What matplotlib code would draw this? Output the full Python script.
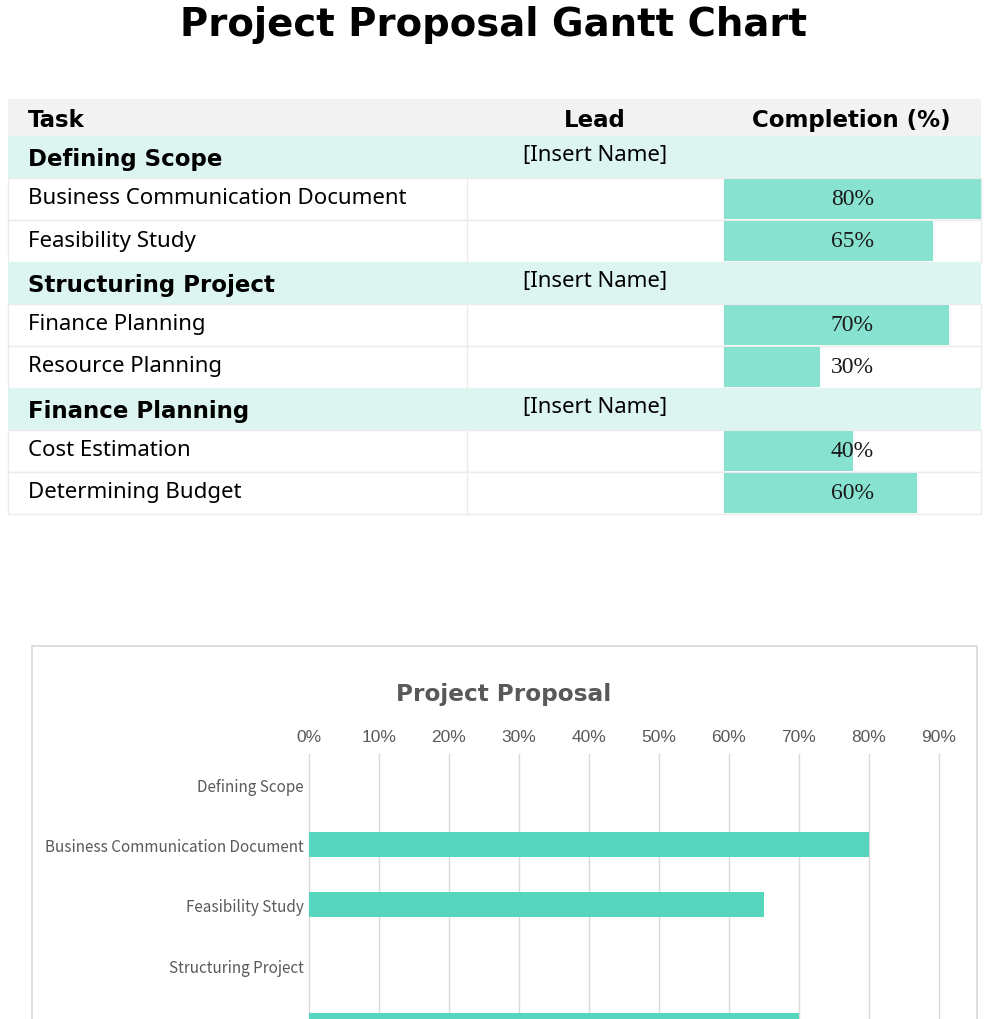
import matplotlib
matplotlib.use("Agg")
import matplotlib.pyplot as plt
import matplotlib.transforms as mtransforms
from matplotlib.patches import Rectangle
from matplotlib.ticker import FuncFormatter

# ---------------- data ----------------
title = "Project Proposal Gantt Chart"
headers = ["Task", "Lead", "Completion (%)"]
tasks = ["Defining Scope", "Business Communication Document", "Feasibility Study",
         "Structuring Project", "Finance Planning", "Resource Planning",
         "Finance Planning", "Cost Estimation", "Determining Budget"]
is_section = [True, False, False, True, False, False, True, False, False]
leads = ["[Insert Name]", "", "", "[Insert Name]", "", "", "[Insert Name]", "", ""]
completion = [None, 80, 65, None, 70, 30, None, 40, 60]
chart_title = "Project Proposal"
x_ticks = [0, 10, 20, 30, 40, 50, 60, 70, 80, 90]

# ---------------- style ----------------
W, H = 990, 1020
HEAD_BG = "#f2f2f2"
SEC_BG = "#dcf5f0"
TBAR = "#88e2d0"
CBAR = "#56d6bc"
GRID = "#d9d9d9"
LINE = "#ebebeb"
GRAY = "#595959"
SANS = ["Noto Sans", "DejaVu Sans"]
SANS_KR = ["Noto Sans CJK KR", "DejaVu Sans"]
BOLD = ["DejaVu Sans"]

fig = plt.figure(figsize=(W / 100, H / 100), dpi=100)
fig.patch.set_facecolor("white")

# layout axes in pixel units
ax = fig.add_axes([0, 0, 1, 1])
ax.set_xlim(0, W)
ax.set_ylim(H, 0)
ax.axis("off")

ax.text(494, 25, title, ha="center", va="center", fontsize=27.8,
        fontweight="heavy", family=BOLD, color="black")

# table geometry
tx0, tx1 = 8, 981
cx1, cx2 = 467, 724
head_top, head_h = 100, 37
row_top, row_h = 137, 42
n = len(tasks)
HFS = 16.5

ax.add_patch(Rectangle((tx0, head_top), tx1 - tx0, head_h, facecolor=HEAD_BG, edgecolor="none"))
ax.text(28, head_top + head_h / 2 + 2, headers[0], ha="left", va="center", fontsize=HFS,
        fontweight="heavy", family=BOLD)
ax.text(595, head_top + head_h / 2 + 2, headers[1], ha="center", va="center", fontsize=HFS,
        fontweight="heavy", family=BOLD)
ax.text(851, head_top + head_h / 2 + 2, headers[2], ha="center", va="center", fontsize=HFS,
        fontweight="heavy", family=BOLD)

for i, (t, sec, ld) in enumerate(zip(tasks, is_section, leads)):
    y = row_top + i * row_h
    if sec:
        ax.add_patch(Rectangle((tx0, y), tx1 - tx0, row_h, facecolor=SEC_BG, edgecolor="none"))
        ax.text(28, y + row_h / 2 + 1.5, t, ha="left", va="center", fontsize=HFS,
                fontweight="heavy", family=BOLD)
    else:
        ax.add_patch(Rectangle((tx0, y), tx1 - tx0, row_h, facecolor="white",
                               edgecolor=LINE, linewidth=1))
        for xx in (cx1, cx2):
            ax.plot([xx, xx], [y, y + row_h], color=LINE, lw=1)
        ax.text(28, y + row_h / 2 - 1, t, ha="left", va="center", fontsize=16,
                family=SANS)
    if ld:
        ax.text(595, y + row_h / 2 - 2, ld, ha="center", va="center", fontsize=16,
                family=SANS)

# completion data bars (Excel-style, scaled to max value)
bx = fig.add_axes([cx2 / W, 1 - (row_top + n * row_h) / H, (tx1 - cx2) / W, n * row_h / H])
bx.set_xlim(0, max(v for v in completion if v is not None))
bx.set_ylim(n - 0.5, -0.5)
bx.axis("off")
bx.patch.set_alpha(0)
idx = [i for i, v in enumerate(completion) if v is not None]
vals = [completion[i] for i in idx]
bx.barh(idx, vals, height=0.97, color=TBAR, edgecolor="none")
blend = mtransforms.blended_transform_factory(bx.transAxes, bx.transData)
for i, v in zip(idx, vals):
    bx.text(0.5, i - 0.02, f"{v}%", transform=blend, ha="center", va="center",
            fontsize=17, family=["Liberation Serif"], color="#1a1a1a")

# ---------------- chart ----------------
chart_top = 647
fig.add_artist(Rectangle((32 / W, -0.5), (977 - 32) / W, 0.5 + 1 - chart_top / H,
                         transform=fig.transFigure, facecolor="white", edgecolor=GRID,
                         linewidth=1.2, zorder=0))
fig.text(504 / W, 1 - 694 / H, chart_title, ha="center", va="center", fontsize=16.7,
         fontweight="heavy", family=BOLD, color=GRAY)

plot_top = 755
cat_h = 60.3
cx = fig.add_axes([309 / W, 1 - (plot_top + n * cat_h) / H, 630 / W, n * cat_h / H])
cx.patch.set_alpha(0)
chart_vals = [v if v is not None else 0 for v in completion]
cx.barh(range(n), chart_vals, height=0.41, color=CBAR, edgecolor="none", zorder=3)
cx.set_ylim(n - 0.5, -0.5)
cx.set_xlim(0, x_ticks[-1])
cx.set_xticks(x_ticks)
cx.xaxis.set_major_formatter(FuncFormatter(lambda v, p: f"{int(v)}%"))
cx.xaxis.tick_top()
cx.tick_params(axis="x", length=0, pad=7, labelsize=12.5, labelcolor=GRAY)
for lab in cx.get_xticklabels():
    lab.set_family(["Liberation Sans"])
cx.set_yticks(range(n))
cx.set_yticklabels(tasks, family=SANS_KR, fontsize=11, color=GRAY)
cx.tick_params(axis="y", length=0, pad=4)
cx.grid(axis="x", color=GRID, lw=1, zorder=0)
for gl in cx.get_xgridlines():
    gl.set_clip_on(False)
for s in ("top", "right", "bottom"):
    cx.spines[s].set_visible(False)
cx.spines["left"].set_color(GRID)
cx.spines["left"].set_zorder(1)

fig.savefig("out.png", dpi=100, facecolor="white")
